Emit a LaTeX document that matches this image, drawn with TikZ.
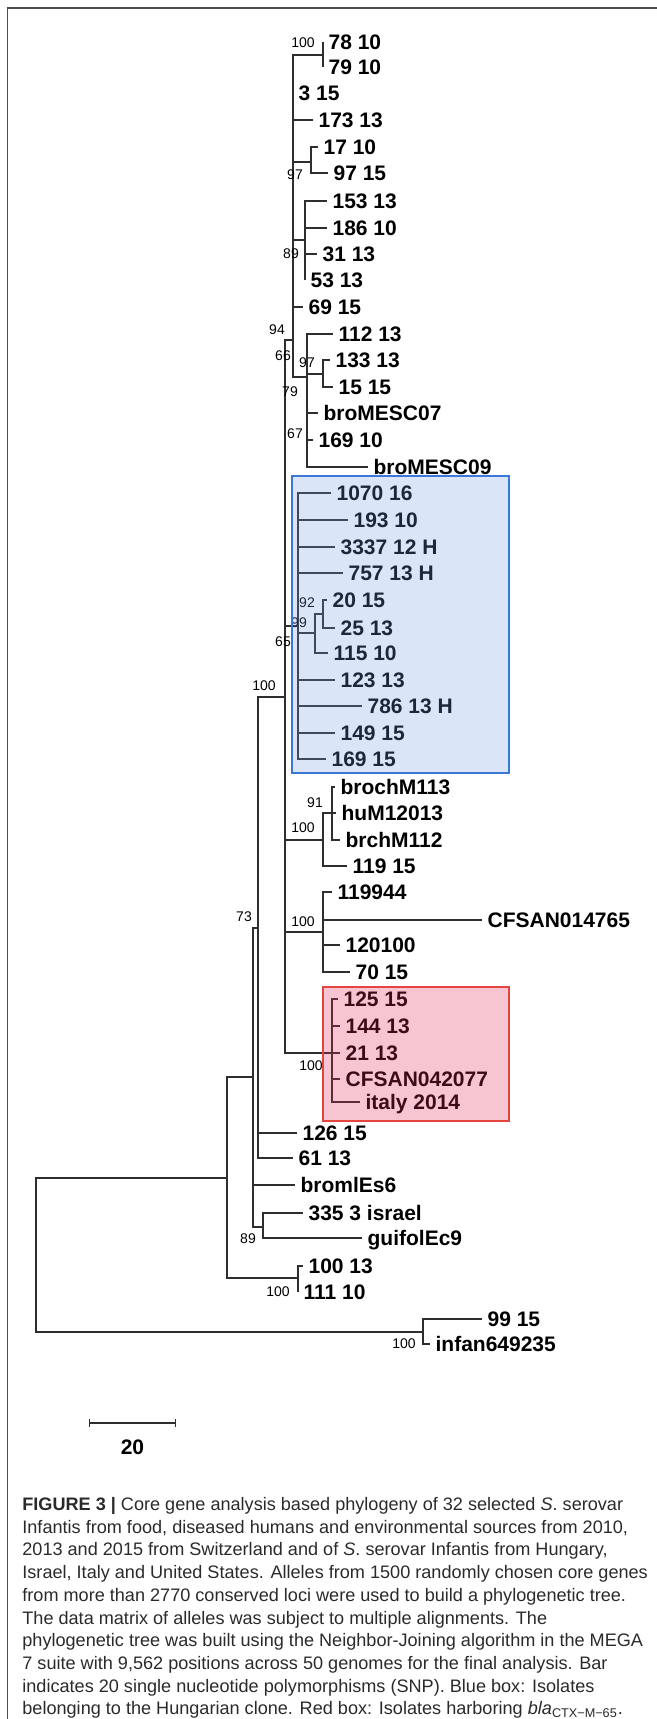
\documentclass[tikz,border=0pt]{standalone}
\usepackage{fontspec}
\setmainfont{Liberation Sans}
\usetikzlibrary{arrows.meta}
\definecolor{treeline}{HTML}{2E2E2E}
\definecolor{framegray}{HTML}{4D4D4D}
\definecolor{captext}{HTML}{2A2A2A}
\definecolor{hungary}{RGB}{115,154,227}
\definecolor{hungaryedge}{HTML}{3A77D6}
\definecolor{ctxm}{RGB}{225,41,86}
\definecolor{ctxmedge}{HTML}{E4463F}
\tikzset{
  leaf/.style={font=\fontsize{10.5}{12}\selectfont\bfseries, anchor=west, inner xsep=2.6pt, inner ysep=0pt, text height=7.5pt, text depth=0pt},
  boot/.style={font=\fontsize{7}{8}\selectfont, inner sep=0pt},
  branch/.style={treeline, line width=0.6pt},
  caption/.style={anchor=north west, align=left, inner sep=0pt, text=captext, font=\fontsize{9.05}{11.35}\selectfont},
}

\begin{document}
\begin{tikzpicture}[x=0.5pt,y=-0.5pt]
  \useasboundingbox (0,0) rectangle (657,1719);

  % frame
  \draw[framegray,line width=1pt] (7,8) -- (657,8);
  \draw[framegray,line width=0.7pt] (7.5,8) -- (7.5,1719);

  % inner nodes
  \coordinate (root) at (36,1255);
  \coordinate (nA) at (227,1178);
  \coordinate (n73) at (253,1077);
  \coordinate (nX) at (258,928);
  \coordinate (nBig) at (285,697);
  \coordinate (nTop) at (293,340);
  \coordinate (n78) at (323,55);
  \coordinate (n17) at (311,162);
  \coordinate (n153) at (305,240);
  \coordinate (n112) at (307,377);
  \coordinate (n133) at (323,374);
  \coordinate (nBlue) at (298,626);
  \coordinate (n99) at (315,633);
  \coordinate (n92) at (323,614);
  \coordinate (nBroch) at (323,840);
  \coordinate (n91) at (332,813);
  \coordinate (nCF) at (323,932);
  \coordinate (nRed) at (332,1053);
  \coordinate (n89) at (263,1227);
  \coordinate (n100b) at (298,1278);
  \coordinate (nInf) at (423,1332);

  % backbone
  \draw[branch] (root) |- (nA);
  \draw[branch] (root) |- (nInf);
  \draw[branch] (nA) |- (n73);
  \draw[branch] (nA) |- (n100b);
  \draw[branch] (n73) |- (nX);
  \draw[branch] (n73) |- (n89);
  \draw[branch] (nX) |- (nBig);
  \draw[branch] (nBig) |- (nTop);
  \draw[branch] (nBig) |- (nBlue);
  \draw[branch] (nBig) |- (nBroch);
  \draw[branch] (nBig) |- (nCF);
  \draw[branch] (nBig) |- (nRed);
  \draw[branch] (nTop) |- (n78);
  \draw[branch] (nTop) |- (n17);
  \draw[branch] (nTop) |- (n153);
  \draw[branch] (nTop) |- (n112);
  \draw[branch] (n112) |- (n133);
  \draw[branch] (nBlue) |- (n99);
  \draw[branch] (n99) |- (n92);
  \draw[branch] (nBroch) |- (n91);

  % top clade
  \node[leaf] (t7810) at (323,42) {78 10};
  \node[leaf] (t7910) at (323,67) {79 10};
  \node[leaf] (t315) at (293,93) {3 15};
  \node[leaf] (t17313) at (313,120) {173 13};
  \node[leaf] (t1710) at (318,147) {17 10};
  \node[leaf] (t9715) at (328,173) {97 15};
  \node[leaf] (t15313) at (327,201) {153 13};
  \node[leaf] (t18610) at (327,228) {186 10};
  \node[leaf] (t3113) at (317,254) {31 13};
  \node[leaf] (t5313) at (305,280) {53 13};
  \node[leaf] (t6915) at (303,307) {69 15};
  \node[leaf] (t11213) at (333,334) {112 13};
  \node[leaf] (t13313) at (330,360) {133 13};
  \node[leaf] (t1515) at (333,387) {15 15};
  \node[leaf] (tMESC07) at (318,413) {broMESC07};
  \node[leaf] (t16910) at (313,440) {169 10};
  \node[leaf] (tMESC09) at (368,467) {broMESC09};
  \draw[branch] (n78) |- (t7810.west);
  \draw[branch] (n78) |- (t7910.west);
  \draw[branch] (nTop) |- (t315.west);
  \draw[branch] (nTop) |- (t17313.west);
  \draw[branch] (n17) |- (t1710.west);
  \draw[branch] (n17) |- (t9715.west);
  \draw[branch] (n153) |- (t15313.west);
  \draw[branch] (n153) |- (t18610.west);
  \draw[branch] (n153) |- (t3113.west);
  \draw[branch] (n153) |- (t5313.west);
  \draw[branch] (nTop) |- (t6915.west);
  \draw[branch] (n112) |- (t11213.west);
  \draw[branch] (n133) |- (t13313.west);
  \draw[branch] (n133) |- (t1515.west);
  \draw[branch] (n112) |- (tMESC07.west);
  \draw[branch] (n112) |- (t16910.west);
  \draw[branch] (n112) |- (tMESC09.west);

  % Hungarian clone
  \node[leaf] (t107016) at (331,493) {1070 16};
  \node[leaf] (t19310) at (348,520) {193 10};
  \node[leaf] (t333712) at (335,547) {3337 12 H};
  \node[leaf] (t75713) at (343,573) {757 13 H};
  \node[leaf] (t2015) at (327,600) {20 15};
  \node[leaf] (t2513) at (335,628) {25 13};
  \node[leaf] (t11510) at (328,653) {115 10};
  \node[leaf] (t12313) at (335,680) {123 13};
  \node[leaf] (t78613) at (362,706) {786 13 H};
  \node[leaf] (t14915) at (335,733) {149 15};
  \node[leaf] (t16915) at (326,759) {169 15};
  \draw[branch] (nBlue) |- (t107016.west);
  \draw[branch] (nBlue) |- (t19310.west);
  \draw[branch] (nBlue) |- (t333712.west);
  \draw[branch] (nBlue) |- (t75713.west);
  \draw[branch] (n92) |- (t2015.west);
  \draw[branch] (n92) |- (t2513.west);
  \draw[branch] (n99) |- (t11510.west);
  \draw[branch] (nBlue) |- (t12313.west);
  \draw[branch] (nBlue) |- (t78613.west);
  \draw[branch] (nBlue) |- (t14915.west);
  \draw[branch] (nBlue) |- (t16915.west);

  % broch and CFSAN clades
  \node[leaf] (tM113) at (335,787) {brochM113};
  \node[leaf] (tM12013) at (336,813) {huM12013};
  \node[leaf] (tM112) at (340,840) {brchM112};
  \node[leaf] (t11915) at (347,866) {119 15};
  \node[leaf] (t119944) at (332,892) {119944};
  \node[leaf] (tCF14765) at (482,920) {CFSAN014765};
  \node[leaf] (t120100) at (340,945) {120100};
  \node[leaf] (t7015) at (350,972) {70 15};
  \draw[branch] (n91) |- (tM113.west);
  \draw[branch] (n91) |- (tM12013.west);
  \draw[branch] (n91) |- (tM112.west);
  \draw[branch] (nBroch) |- (t11915.west);
  \draw[branch] (nCF) |- (t119944.west);
  \draw[branch] (nCF) |- (tCF14765.west);
  \draw[branch] (nCF) |- (t120100.west);
  \draw[branch] (nCF) |- (t7015.west);

  % CTX-M-65 clade
  \node[leaf] (t12515) at (338,999) {125 15};
  \node[leaf] (t14413) at (340,1026) {144 13};
  \node[leaf] (t2113) at (340,1053) {21 13};
  \node[leaf] (tCF42077) at (340,1079) {CFSAN042077};
  \node[leaf] (titaly) at (360,1102) {italy 2014};
  \draw[branch] (nRed) |- (t12515.west);
  \draw[branch] (nRed) |- (t14413.west);
  \draw[branch] (nRed) |- (t2113.west);
  \draw[branch] (nRed) |- (tCF42077.west);
  \draw[branch] (nRed) |- (titaly.west);

  % lower clades
  \node[leaf] (t12615) at (297,1133) {126 15};
  \node[leaf] (t6113) at (293,1158) {61 13};
  \node[leaf] (tEs6) at (295,1185) {bromlEs6};
  \node[leaf] (t3353) at (303,1213) {335 3 israel};
  \node[leaf] (tEc9) at (362,1238) {guifolEc9};
  \node[leaf] (t10013) at (303,1266) {100 13};
  \node[leaf] (t11110) at (298,1292) {111 10};
  \node[leaf] (t9915) at (482,1319) {99 15};
  \node[leaf] (tinfan) at (430,1344) {infan649235};
  \draw[branch] (nX) |- (t12615.west);
  \draw[branch] (nX) |- (t6113.west);
  \draw[branch] (n73) |- (tEs6.west);
  \draw[branch] (n89) |- (t3353.west);
  \draw[branch] (n89) |- (tEc9.west);
  \draw[branch] (n100b) |- (t10013.west);
  \draw[branch] (n100b) |- (t11110.west);
  \draw[branch] (nInf) |- (t9915.west);
  \draw[branch] (nInf) |- (tinfan.west);

  % bootstrap values
  \node[boot] (b78) at (303,43) {100};
  \node[boot] (b17) at (295,175) {97};
  \node[boot] (b153) at (291,254) {89};
  \node[boot] (b94) at (277,330) {94};
  \node[boot] (b66) at (283,356) {66};
  \node[boot] (b133) at (307,363) {97};
  \node[boot] (b79) at (290,392) {79};
  \node[boot] (b67) at (295,434) {67};
  \node[boot] (b92) at (307,603) {92};
  \node[boot] (b99) at (299,623) {99};
  \node[boot] (b65) at (283,642) {65};
  \node[boot] (bBig) at (264,686) {100};
  \node[boot] (b91) at (315,803) {91};
  \node[boot] (bBroch) at (303,828) {100};
  \node[boot] (b73) at (244,917) {73};
  \node[boot] (bCF) at (303,922) {100};
  \node[boot] (bRed) at (311,1066) {100};
  \node[boot] (b89) at (248,1239) {89};
  \node[boot] (b100b) at (278,1292) {100};
  \node[boot] (bInf) at (404,1344) {100};

  % boxes
  \fill[hungary,fill opacity=0.26] (292,476) rectangle (509,773);
  \draw[hungaryedge,line width=0.9pt] (292,476) rectangle (509,773);
  \fill[ctxm,fill opacity=0.27] (323,987) rectangle (509,1121);
  \draw[ctxmedge,line width=0.9pt] (323,987) rectangle (509,1121);

  % scale bar
  \coordinate (barL) at (89,1423);
  \coordinate (barR) at (176,1423);
  \draw[branch,{Bar[width=4pt]}-{Bar[width=4pt]}] (barL) -- (barR);
  \node[leaf,anchor=center] (barlabel) at (132.5,1447) {20};

  % caption
  \node[caption] (cap) at (22,1497) {{\bfseries FIGURE 3 \textbar} Core gene analysis based phylogeny of 32 selected \textit{S}. serovar\\
    Infantis from food, diseased humans and environmental sources from 2010,\\
    2013 and 2015 from Switzerland and of \textit{S}. serovar Infantis from Hungary,\\
    Israel, Italy and United States. Alleles from 1500 randomly chosen core genes\\
    from more than 2770 conserved loci were used to build a phylogenetic tree.\\
    The data matrix of alleles was subject to multiple alignments. The\\
    phylogenetic tree was built using the Neighbor-Joining algorithm in the MEGA\\
    7 suite with 9,562 positions across 50 genomes for the final analysis. Bar\\
    indicates 20 single nucleotide polymorphisms (SNP). Blue box: Isolates\\
    belonging to the Hungarian clone. Red box: Isolates harboring \textit{bla}\textsubscript{CTX−M−65}.};
\end{tikzpicture}
\end{document}
